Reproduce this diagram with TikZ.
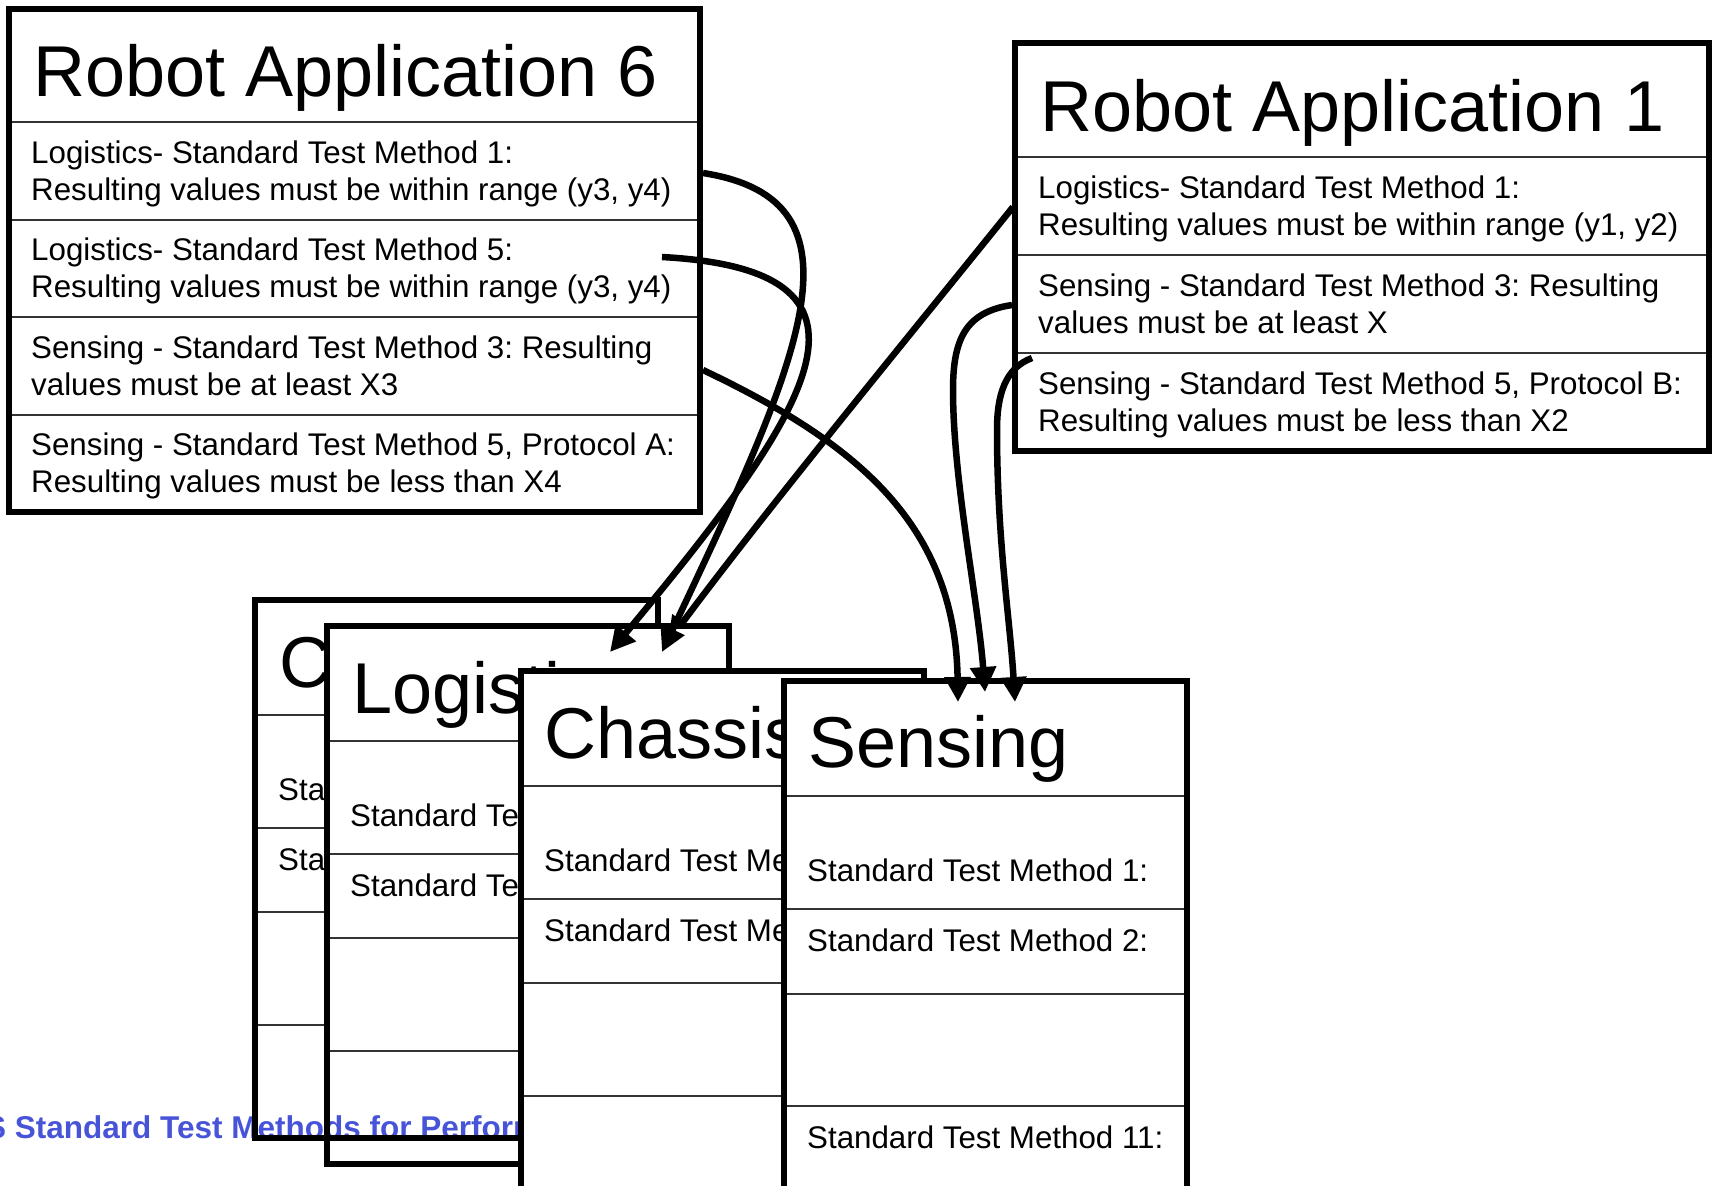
\documentclass[tikz,border=0pt]{standalone}
\usepackage{fontspec}
\setmainfont{Liberation Sans}
\usetikzlibrary{arrows.meta}
\definecolor{linkblue}{RGB}{72,84,216}
\frenchspacing
\tikzset{
  frame/.style={line width=6.5pt, line join=miter},
  sepline/.style={line width=2pt, black!80},
  titletext/.style={anchor=base west, inner sep=0pt, font=\fontsize{72}{86}\selectfont},
  bodytext/.style={anchor=base west, inner sep=0pt, font=\fontsize{31.3}{37}\selectfont},
  link/.style={line width=6.5pt, -{Triangle[length=25pt,width=25pt]}},
}
\begin{document}
\begin{tikzpicture}[x=1pt,y=-1pt]
\useasboundingbox (0,0) rectangle (1717,1186);

% running footer text behind the stacked cards
\node[anchor=base west, inner sep=0pt, font=\bfseries\fontsize{31.5}{38}\selectfont, text=linkblue]
  (footer) at (-15,1138) {S Standard Test Methods for Performance};

% ---- back card (last row left unfilled)
\begin{scope}[shift={(255,600)}]
  \fill[white] (0,0) rectangle (403,425);
  \foreach \yy in {115,228,312,425} \draw[sepline] (0,\yy) -- (403,\yy);
  \node[titletext] (cTitle) at (24,87) {C};
  \node[bodytext] (cRowA) at (23,200) {Standard Test Method 1:};
  \node[bodytext] (cRowB) at (23,270) {Standard Test Method 2:};
  \draw[frame] (0,0) rectangle (403,538);
\end{scope}

% connector from Robot Application 1 whose tip sits under the Logistics card
\coordinate (f-start) at (1013,207);
\coordinate (f-end) at (668,642);
\draw[link] (f-start) .. controls (910,335) and (770,505) .. (f-end);

% ---- Logistics card
\begin{scope}[shift={(327,626)}]
  \fill[white] (0,0) rectangle (402,425);
  \foreach \yy in {115,228,312,425} \draw[sepline] (0,\yy) -- (402,\yy);
  \node[titletext] (logTitle) at (25,87) {Logistics};
  \node[bodytext] (logRowA) at (23,200) {Standard Test Method 1:};
  \node[bodytext] (logRowB) at (23,270) {Standard Test Method 2:};
  \draw[frame] (0,0) rectangle (402,538);
\end{scope}

% ---- Chassis card
\begin{scope}[shift={(521,671)}]
  \fill[white] (0,0) rectangle (403,538);
  \foreach \yy in {115,228,312,425} \draw[sepline] (0,\yy) -- (403,\yy);
  \node[titletext] (chaTitle) at (23,87) {Chassis};
  \node[bodytext] (chaRowA) at (23,200) {Standard Test Method 1:};
  \node[bodytext] (chaRowB) at (23,270) {Standard Test Method 2:};
  \draw[frame] (0,0) rectangle (403,538);
\end{scope}

% ---- Sensing card
\begin{scope}[shift={(784,681)}]
  \fill[white] (0,0) rectangle (403,538);
  \foreach \yy in {115,228,313,425} \draw[sepline] (0,\yy) -- (403,\yy);
  \node[titletext] (senTitle) at (24,86) {Sensing};
  \node[bodytext] (senRowA) at (23,200) {Standard Test Method 1:};
  \node[bodytext] (senRowB) at (23,270) {Standard Test Method 2:};
  \node[bodytext] (senRowK) at (23,467) {Standard Test Method 11:};
  \draw[frame] (0,0) rectangle (403,538);
\end{scope}

% ---- Robot Application 6
\fill[white] (9,9) rectangle (700,512);
\foreach \yy in {122,219.5,317,414.5} \draw[sepline] (9,\yy) -- (700,\yy);
\node[titletext] (ra6) at (33,96) {Robot Application 6};
\node[bodytext] (ra6a1) at (31,163) {Logistics- Standard Test Method 1:};
\node[bodytext] (ra6a2) at (31,200) {Resulting values must be within range (y3, y4)};
\node[bodytext] (ra6b1) at (31,260.5) {Logistics- Standard Test Method 5:};
\node[bodytext] (ra6b2) at (31,297.5) {Resulting values must be within range (y3, y4)};
\node[bodytext] (ra6c1) at (31,358) {Sensing - Standard Test Method 3: Resulting};
\node[bodytext] (ra6c2) at (31,395) {values must be at least X3};
\node[bodytext] (ra6d1) at (31,455.5) {Sensing - Standard Test Method 5, Protocol A:};
\node[bodytext] (ra6d2) at (31,492.5) {Resulting values must be less than X4};
\draw[frame] (9,9) rectangle (700,512);

% ---- Robot Application 1
\fill[white] (1015,43) rectangle (1709,451);
\foreach \yy in {157,255,353} \draw[sepline] (1015,\yy) -- (1709,\yy);
\node[titletext] (ra1) at (1040,131) {Robot Application 1};
\node[bodytext] (ra1a1) at (1038,198) {Logistics- Standard Test Method 1:};
\node[bodytext] (ra1a2) at (1038,235) {Resulting values must be within range (y1, y2)};
\node[bodytext] (ra1b1) at (1038,296) {Sensing - Standard Test Method 3: Resulting};
\node[bodytext] (ra1b2) at (1038,333) {values must be at least X};
\node[bodytext] (ra1c1) at (1038,394) {Sensing - Standard Test Method 5, Protocol B:};
\node[bodytext] (ra1c2) at (1038,431) {Resulting values must be less than X2};
\draw[frame] (1015,43) rectangle (1709,451);

% ---- connectors
\coordinate (a-start) at (703,173);
\coordinate (a-end) at (662,652);
\coordinate (b-start) at (662,257);
\coordinate (b-end) at (610,652);
\coordinate (c-start) at (703,370);
\coordinate (c-end) at (958,702);
\coordinate (d-start) at (1012,305);
\coordinate (d-end) at (985,692);
\coordinate (e-start) at (1032,358);
\coordinate (e-end) at (1015,702);

\draw[link] (a-start) .. controls (875,200) and (800,360) .. (a-end);
\draw[link] (b-start) .. controls (900,270) and (820,400) .. (b-end);
\draw[link] (c-start) .. controls (850,440) and (955,520) .. (c-end);
\draw[link] (d-start) .. controls (965,312) and (953,340) .. (953,390)
                      .. controls (953,480) and (978,600) .. (d-end);
\draw[link] (e-start) .. controls (1005,368) and (997,395) .. (997,430)
                      .. controls (997,540) and (1010,620) .. (e-end);
\end{tikzpicture}
\end{document}
